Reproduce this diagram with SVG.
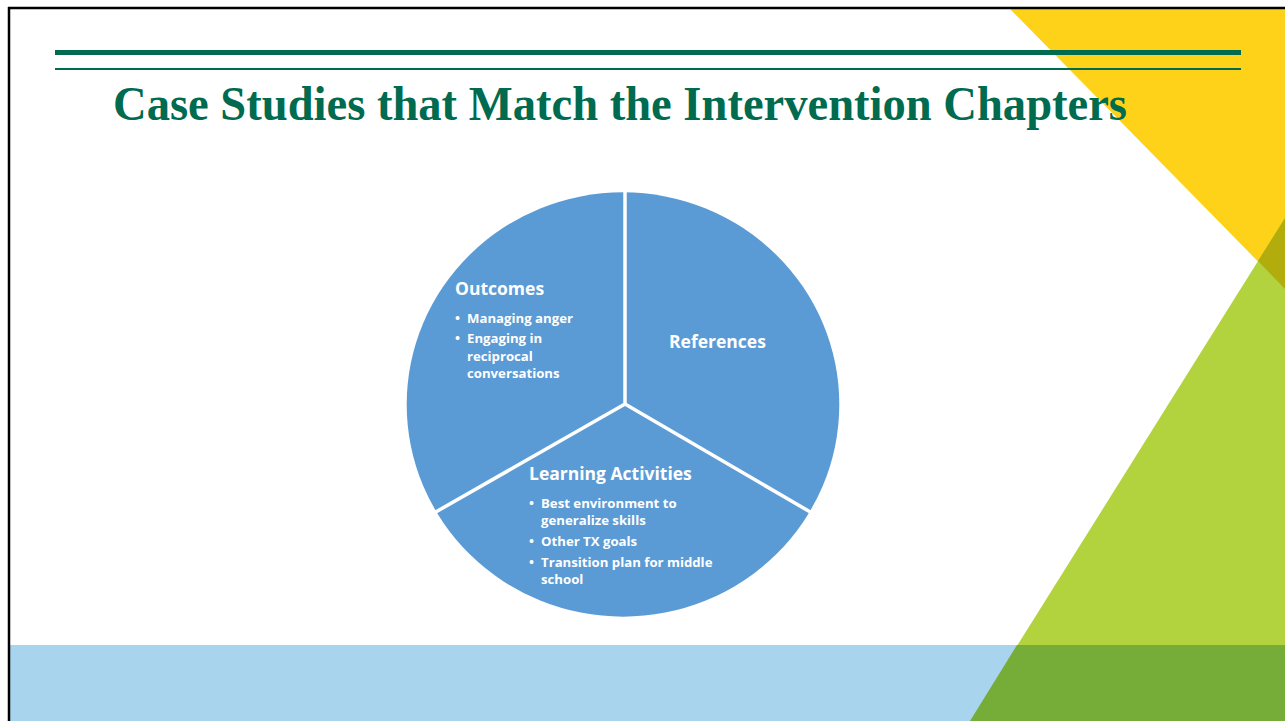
<svg xmlns="http://www.w3.org/2000/svg" width="1285" height="721" viewBox="0 0 1285 721">
<style>
.title{font-family:"Liberation Serif","Times New Roman",serif;font-weight:bold;font-size:48px;fill:#006B4F}
.hd{font-family:"Open Sans","Liberation Sans",sans-serif;font-weight:bold;font-size:17.5px;fill:#FFFFFF}
.bl{font-family:"Open Sans","Liberation Sans",sans-serif;font-weight:bold;font-size:13.2px;fill:#FFFFFF}
.div{stroke:#FFFFFF;stroke-width:3.5;fill:none}
</style>
<rect x="0" y="0" width="1285" height="721" fill="#FFFFFF"/>
<g id="background">
<polygon points="1010,9 1285,9 1285,289" fill="#FED218"/>
<polygon points="970,721 1285,218 1285,721" fill="#B2D23E"/>
<polygon points="1258,261 1285,218 1285,289" fill="#B2AC0C"/>
<rect x="10" y="645" width="1275" height="76" fill="#A8D4EE"/>
<polygon points="1017,645 1285,645 1285,721 970,721" fill="#75AD38"/>
<rect x="55" y="50" width="1186" height="5" fill="#006B4F"/>
<rect x="55" y="68" width="1186" height="2" fill="#006B4F"/>
<line x1="8" y1="8" x2="1285" y2="8" stroke="#000000" stroke-width="2.5"/>
<line x1="9" y1="7" x2="9" y2="721" stroke="#000000" stroke-width="2.5"/>
</g>
<text class="title" x="113" y="120" textLength="1014" lengthAdjust="spacingAndGlyphs">Case Studies that Match the Intervention Chapters</text>
<g id="pie">
<ellipse cx="623" cy="404.5" rx="216.3" ry="212.2" fill="#5B9BD5"/>
</g>
<g id="connectors">
<line class="div" x1="625" y1="404" x2="625" y2="188"/>
<line class="div" x1="625" y1="404" x2="434" y2="513"/>
<line class="div" x1="625" y1="404" x2="812" y2="513"/>
</g>
<g id="outcomes">
<text class="hd" x="455" y="295">Outcomes</text>
<text class="bl" x="455" y="323">•</text><text class="bl" x="467" y="323">Managing anger</text>
<text class="bl" x="455" y="343">•</text><text class="bl" x="467" y="343">Engaging in</text>
<text class="bl" x="467" y="361">reciprocal</text>
<text class="bl" x="467" y="378">conversations</text>
</g>
<g id="references">
<text class="hd" x="669" y="348">References</text>
</g>
<g id="learning">
<text class="hd" x="529" y="480">Learning Activities</text>
<text class="bl" x="529" y="508">•</text><text class="bl" x="541" y="508">Best environment to</text>
<text class="bl" x="541" y="525">generalize skills</text>
<text class="bl" x="529" y="546">•</text><text class="bl" x="541" y="546">Other TX goals</text>
<text class="bl" x="529" y="567">•</text><text class="bl" x="541" y="567">Transition plan for middle</text>
<text class="bl" x="541" y="584">school</text>
</g>
</svg>
